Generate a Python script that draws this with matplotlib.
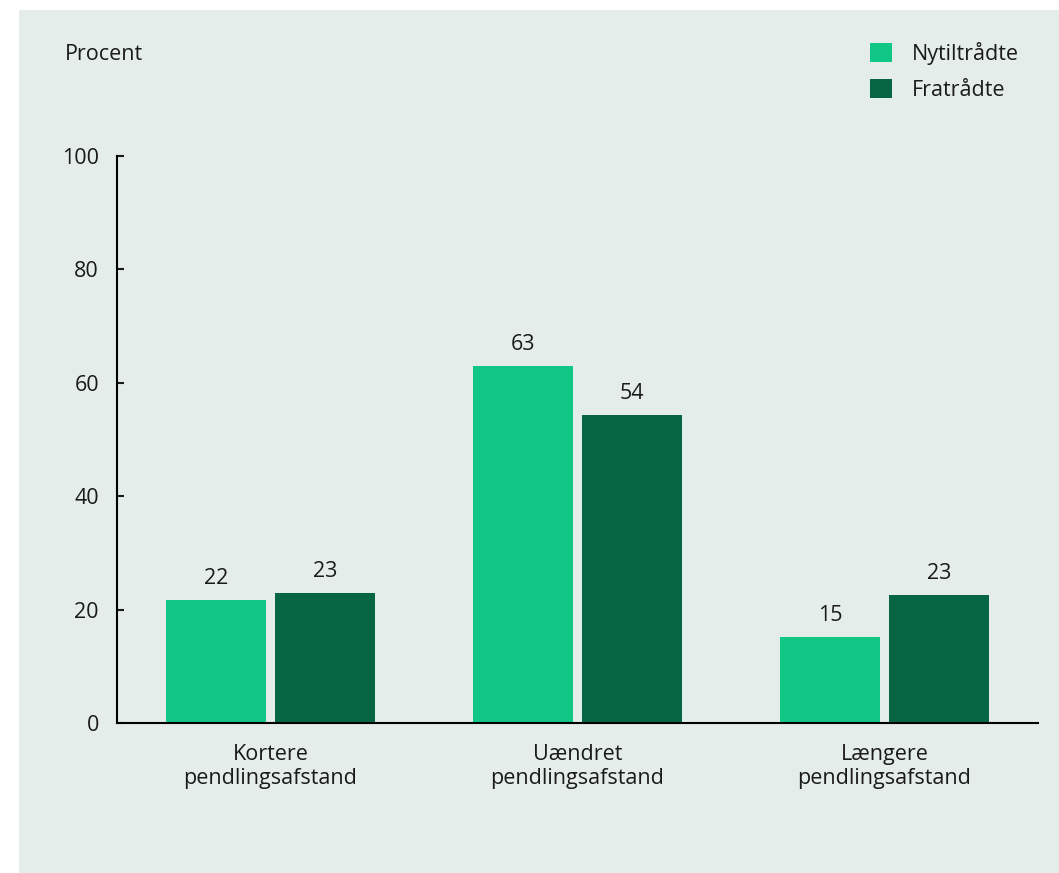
import numpy as np
import matplotlib.pyplot as plt
from matplotlib.patches import Rectangle

# data
categories = ['Kortere\npendlingsafstand', 'Uændret\npendlingsafstand', 'Længere\npendlingsafstand']
nytiltraadte = [21.7, 63.0, 15.2]
fratraadte = [22.9, 54.3, 22.6]
labels_ny = ['22', '63', '15']
labels_fra = ['23', '54', '23']
series_names = ['Nytiltrådte', 'Fratrådte']
yticks = [0, 20, 40, 60, 80, 100]

light = '#10C785'
dark = '#066644'
bg = '#E4EDEA'
txt = '#1a1a1a'
fs = 15.5

plt.rcParams['font.family'] = ['Open Sans', 'DejaVu Sans']
plt.rcParams['font.size'] = fs

fig = plt.figure(figsize=(10.59, 8.73), dpi=100)
fig.patch.set_facecolor('white')
# grey-green panel behind the chart
fig.patches.append(Rectangle((19 / 1059, 0), 1 - 19 / 1059, 1 - 10 / 873,
                             transform=fig.transFigure, facecolor=bg,
                             edgecolor='none', zorder=-1))

ax = fig.add_axes([117 / 1059, 150 / 873, (1038 - 117) / 1059, (723 - 156) / 873])
ax.set_facecolor('none')

x = np.arange(len(categories))
w = 0.323
off = 0.1775
b1 = ax.bar(x - off, nytiltraadte, w, color=light, label=series_names[0])
b2 = ax.bar(x + off, fratraadte, w, color=dark, label=series_names[1])

for bars, labs in [(b1, labels_ny), (b2, labels_fra)]:
    for r, lab in zip(bars, labs):
        ax.annotate(lab, (r.get_x() + r.get_width() / 2, r.get_height()),
                    xytext=(0, 8), textcoords='offset points',
                    ha='center', va='bottom', color=txt, fontsize=fs)

ax.set_xlim(-0.5, 2.5)
ax.set_ylim(0, 100)
ax.set_yticks(yticks)
ax.set_xticks(x)
ax.set_xticklabels(categories, color=txt, fontsize=fs, linespacing=1.2)
ax.tick_params(axis='x', length=0, pad=15)
ax.tick_params(axis='y', direction='in', length=5, width=1.5, pad=13, colors=txt, labelsize=fs)
for s in ['top', 'right']:
    ax.spines[s].set_visible(False)
for s in ['left', 'bottom']:
    ax.spines[s].set_linewidth(1.5)
    ax.spines[s].set_color('black')

fig.text(65 / 1059, 1 - 54 / 873, 'Procent', ha='left', va='center', color=txt, fontsize=fs)

leg = fig.legend(handles=[b1, b2], labels=series_names, loc='upper right',
                 bbox_to_anchor=(1027 / 1059, 1 - 33 / 873), frameon=False,
                 handlelength=1.0, handleheight=1.0, handletextpad=0.9,
                 labelspacing=0.65, fontsize=fs, borderaxespad=0)
for t in leg.get_texts():
    t.set_color(txt)

fig.savefig('out.png', dpi=100)
